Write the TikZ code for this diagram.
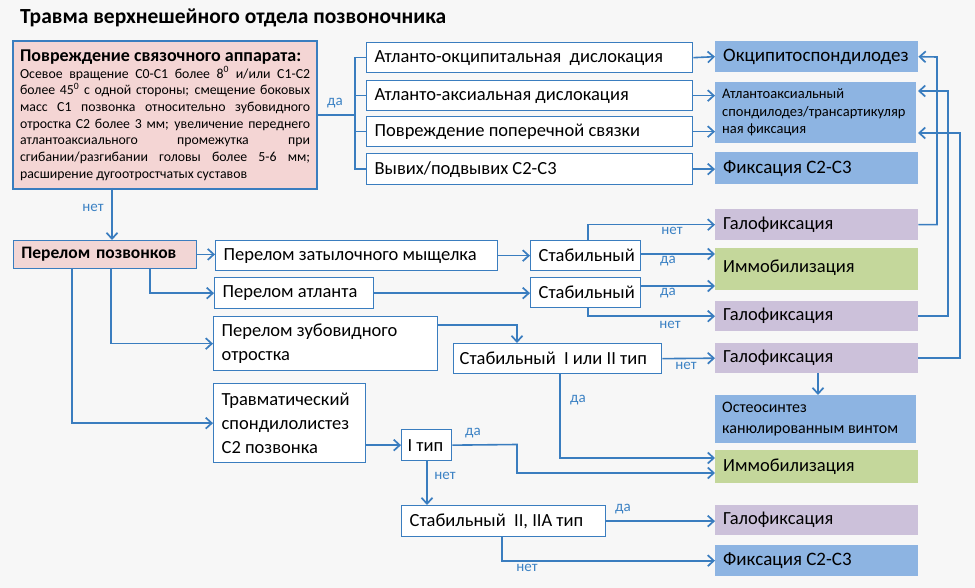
\documentclass[tikz,border=0pt]{standalone}
\usepackage{fontspec}
\setmainfont{Carlito}
\usetikzlibrary{arrows.meta}
\definecolor{lineblue}{HTML}{3A7DBF}
\definecolor{labblue}{HTML}{3C82C4}
\definecolor{resblue}{HTML}{8DB4E2}
\definecolor{purp}{HTML}{CCC1DA}
\definecolor{grn}{HTML}{C4D79B}
\definecolor{pinkbig}{HTML}{F4D5D4}
\definecolor{pinksm}{HTML}{F2D6D5}
\definecolor{bgc}{HTML}{F7F7F7}
\newcommand\fs[2]{\fontsize{#1}{#2}\selectfont}
\newcommand\bx[8][]{%
 \pgfmathsetmacro\bxw{#6-#4-16}%
 \pgfmathsetmacro\bxh{#7-#5}%
 \node[#2, anchor=north west, text width=\bxw pt, minimum height=\bxh pt, inner xsep=8pt, inner ysep=0pt, #1] (#3) at (#4,#5) {#8};}
\tikzset{
 wb/.style={draw=lineblue, line width=1.3pt, fill=white, font=\fs{18.5}{21}, align=flush left},
 res/.style={fill=resblue, font=\fs{19}{21}, align=flush left},
 hal/.style={fill=purp, font=\fs{18.5}{21}, align=flush left},
 imm/.style={fill=grn, font=\fs{18.5}{21}, align=flush left},
 ar/.style={line width=1.6pt, draw=lineblue, -{Straight Barb[length=6pt,width=11pt,line width=1.7pt]}},
 ln/.style={line width=1.6pt, draw=lineblue},
 lab/.style={text=labblue, font=\fs{15}{16}, inner sep=0pt},
}
\begin{document}
\begin{tikzpicture}[x=1pt,y=-1pt]
\fill[bgc] (0,0) rectangle (975,588);
\useasboundingbox (0,0) rectangle (975,588);
\node[anchor=west, font=\bfseries\fs{21.5}{25}, inner sep=0pt] (title) at (20,18) {Травма верхнешейного отдела позвоночника};

\bx[draw=lineblue, line width=2.2pt, fill=pinkbig, align=justify, inner xsep=7pt]{}{lig}{12}{40}{318}{188}{%
{\bfseries\fs{18}{21}Повреждение связочного аппарата:\par}
\fs{13.8}{16.7}Осевое вращение С0-С1 более 8\textsuperscript{0} и/или С1-С2\linebreak
более 45\textsuperscript{0} с одной стороны; смещение боковых\linebreak
масс С1 позвонка относительно зубовидного\linebreak
отростка С2 более 3 мм; увеличение переднего\linebreak
атлантоаксиального промежутка при\linebreak
сгибании/разгибании головы более 5-6 мм;\linebreak
расширение дугоотростчатых суставов\par}

\bx{wb}{ao}{366}{42}{692}{72}{Атланто-окципитальная\ \ дислокация}
\bx{wb}{aa}{366}{80}{692}{110}{Атланто-аксиальная дислокация}
\bx{wb}{pp}{366}{116}{692}{146}{Повреждение поперечной связки}
\bx{wb}{vv}{366}{153}{692}{184}{Вывих/подвывих С2-С3}

\bx{res}{ok}{715}{41}{918}{72}{Окципитоспондилодез}
\bx[font=\fs{14.5}{17.5}, inner xsep=7pt]{res}{at}{715}{82}{918}{143}{Атлантоаксиальный\\спондилодез/трансартикуляр\\ная фиксация}
\bx{res}{f1}{715}{152}{918}{184}{Фиксация С2-С3}

\coordinate (br) at (355,115);
\draw[ln] (lig.east |- br) -- (br);
\draw[ln] (ao.west) -| (br) |- (vv.west);
\draw[ln] (br |- aa.west) -- (aa.west);
\draw[ln] (br |- pp.west) -- (pp.west);
\node[lab] (lda) at (335,103) {да};

\draw[ar] (ao.east) -- (ok.west);
\draw[ar] (aa.east) -- (aa.east -| at.west);
\draw[ar] (pp.east) -- (pp.east -| at.west);
\draw[ar] (vv.east) -- (vv.east -| f1.west);

\bx[draw=lineblue, line width=0.8pt, fill=pinksm, font=\bfseries\fs{17.5}{20}]{}{pz}{13}{240}{196}{268}{Перелом позвонков}
\draw[ar] (112,188) -- (112,240);
\node[lab] (lnet0) at (93,208) {нет};

\bx{wb}{zm}{215}{240}{497}{270}{Перелом затылочного мыщелка}
\bx{wb}{atl}{214}{277}{373}{308}{Перелом атланта}
\bx[font=\fs{18.5}{24}]{wb}{zub}{213}{316}{437}{370}{Перелом зубовидного\\отростка}
\bx[font=\fs{18.5}{24}]{wb}{tr}{213}{383}{365}{462}{Травматический\\спондилолистез\\С2 позвонка}

\draw[ar] (pz.east) -- (pz.east -| zm.west);
\draw[ar] (150,268) |- (atl.west);
\draw[ar] (111,268) |- (zub.west);
\draw[ar] (72,268) |- (tr.west);

\bx{wb}{st1}{530}{240}{640}{270}{Стабильный}
\bx{wb}{st2}{530}{277}{640}{307}{Стабильный}
\draw[ar] (zm.east) -- (zm.east -| st1.west);
\draw[ar] (atl.east) -- (atl.east -| st2.west);

\bx{hal}{g1}{715}{209}{918}{240}{Галофиксация}
\bx[text depth=6pt]{imm}{im1}{715}{248}{918}{290}{Иммобилизация}
\bx{hal}{g2}{715}{301}{918}{331}{Галофиксация}
\bx{hal}{g3}{715}{343}{918}{373}{Галофиксация}
\bx[font=\fs{16}{21}, inner xsep=7pt]{res}{os}{715}{395}{918}{443}{Остеосинтез\\канюлированным винтом}
\bx{imm}{im2}{715}{450}{918}{483}{Иммобилизация}
\bx{hal}{g4}{715}{505}{918}{535}{Галофиксация}
\bx{res}{f2}{715}{545}{918}{576}{Фиксация С2-С3}

\draw[ar] (588,240) |- (g1.west);
\node[lab] (ln1) at (672,231) {нет};
\draw[ar] (640,254) -- (715,254);
\node[lab] (ld1) at (668,261) {да};
\draw[ar] (640,286) -- (715,286);
\node[lab] (ld2) at (668,293) {да};
\draw[ar] (588,307) |- (g2.west);
\node[lab] (ln2) at (670,325) {нет};

\bx[inner xsep=6pt]{wb}{s12}{453}{343}{665}{373}{Стабильный\ \ I или II тип}
\draw[ar] (zub.east |- 0,325) -| (517,343);
\draw[ar] (s12.east) -- (g3.west);
\node[lab] (ln3) at (686,366) {нет};
\draw[ar] (g3.south -| 818,0) -- (os.north -| 818,0);
\draw[ar] (560,373) |- (715,458);
\node[lab] (ld3) at (578,400) {да};

\bx[inner xsep=6pt]{wb}{it}{401}{429}{455}{460}{I тип}
\draw[ar] (tr.east |- it.west) -- (it.west);
\draw[ar] (it.east) -- (517,444.5) |- (715,473);
\node[lab] (ld4) at (473,433) {да};

\bx{wb}{s2}{401}{505}{605}{536}{Стабильный\ \ II, IIA тип}
\draw[ar] (427,460) -- (427,505);
\node[lab] (ln4) at (445,476) {нет};
\draw[ar] (s2.east) -- (s2.east -| g4.west);
\node[lab] (ld5) at (623,509) {да};
\draw[ar] (502,536) |- (f2.west);
\node[lab] (ln5) at (527,568) {нет};

\draw[ar] (g1.east) -| (937,57) -- (ok.east);
\draw[ar] (918,316) -| (948,91) -- (918,91);
\draw[ar] (918,358) -| (960,133) -- (918,133);
\end{tikzpicture}
\end{document}
